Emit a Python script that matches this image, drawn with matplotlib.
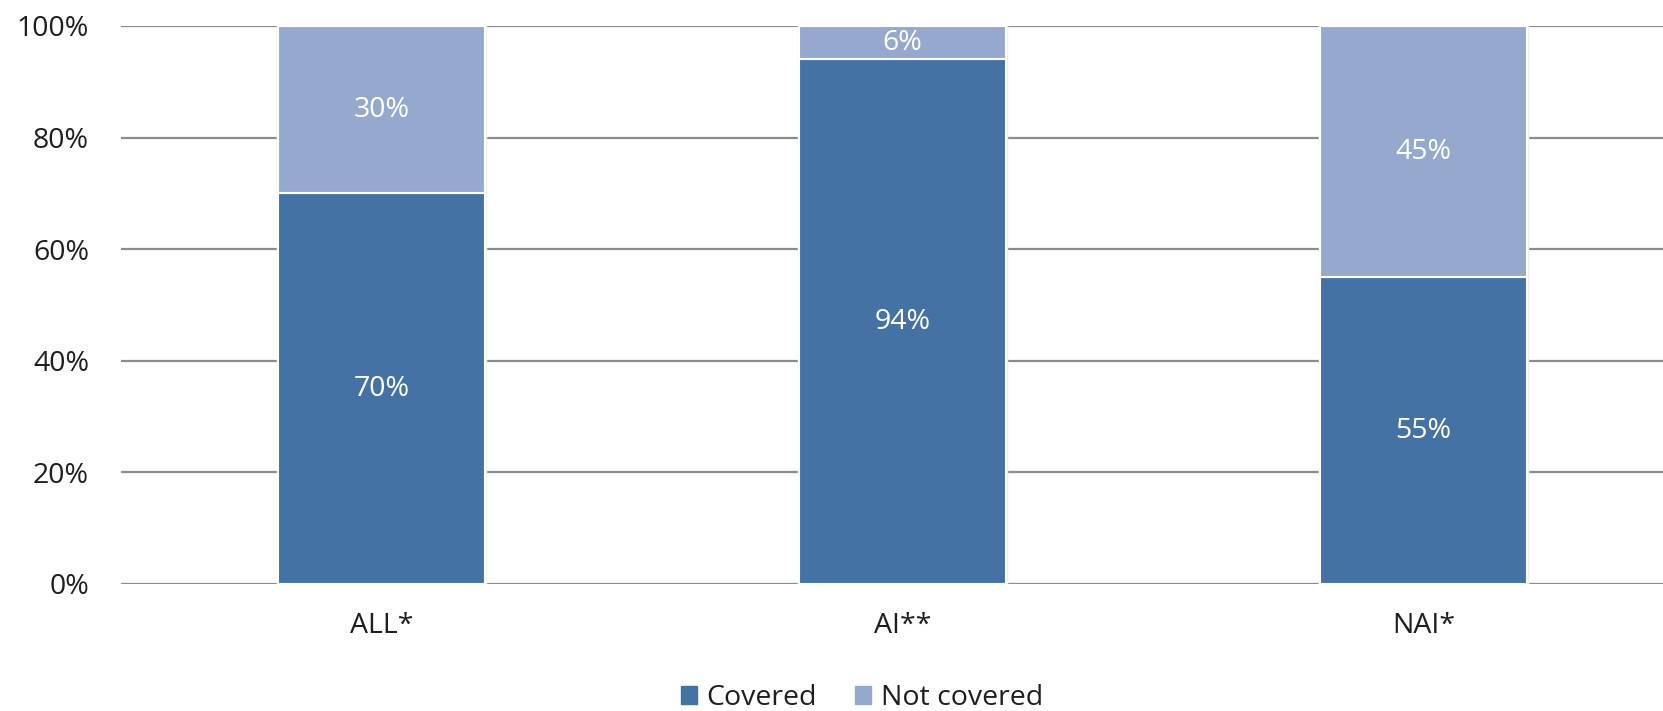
import matplotlib.pyplot as plt
from matplotlib.ticker import FuncFormatter
from matplotlib.patches import Patch

categories = ["ALL*", "AI**", "NAI*"]
covered = [70, 94, 55]
not_covered = [30, 6, 45]
yticks = [0, 20, 40, 60, 80, 100]

c_cov = "#4472a4"
c_not = "#95a9cf"
font = "Open Sans"
fs = 20.5

fig = plt.figure(figsize=(16.63, 7.11), dpi=100)
ax = fig.add_axes([121 / 1663, 1 - 584 / 711, 1563 / 1663, 558 / 711])

x = list(range(len(categories)))
w = 0.397
totals = [c + n for c, n in zip(covered, not_covered)]

# faint halo behind each stacked column
ax.bar(x, totals, w, color="none", edgecolor="#eeeeee", linewidth=2.5, zorder=2)
ax.bar(x, covered, w, color=c_cov, edgecolor="white", linewidth=1.5, zorder=3)
ax.bar(x, not_covered, w, bottom=covered, color=c_not, edgecolor="white",
       linewidth=1.5, zorder=3)

for i in x:
    ax.text(i, covered[i] / 2, f"{covered[i]}%", ha="center", va="center",
            color="white", fontsize=fs, family=font, zorder=4)
    ax.text(i, covered[i] + not_covered[i] / 2, f"{not_covered[i]}%", ha="center",
            va="center", color="white", fontsize=fs, family=font, zorder=4)

ax.set_xlim(-0.5, 2.5)
ax.set_ylim(0, 100)
ax.set_yticks(yticks)
ax.yaxis.set_major_formatter(FuncFormatter(lambda v, p: f"{v:.0f}%"))
ax.set_xticks(x)
ax.set_xticklabels(categories)
ax.grid(axis="y", color="#8c8c8c", linewidth=1.6, zorder=0)
ax.set_axisbelow(True)
for s in ax.spines.values():
    s.set_visible(False)
ax.tick_params(axis="both", length=0, labelsize=fs)
ax.tick_params(axis="y", pad=23)
ax.tick_params(axis="x", pad=20)
for lab in ax.get_xticklabels() + ax.get_yticklabels():
    lab.set_family(font)
    lab.set_color("#1f1f1f")

handles = [Patch(color=c_cov, label="Covered"), Patch(color=c_not, label="Not covered")]
fig.legend(handles=handles, loc="center", bbox_to_anchor=(862 / 1663, 1 - 698 / 711),
           ncol=2, frameon=False, handlelength=0.56, handleheight=0.56,
           handletextpad=0.35, columnspacing=1.33, borderpad=0,
           prop={"family": font, "size": fs}, labelcolor="#1f1f1f")

fig.savefig("out.png", dpi=100)
